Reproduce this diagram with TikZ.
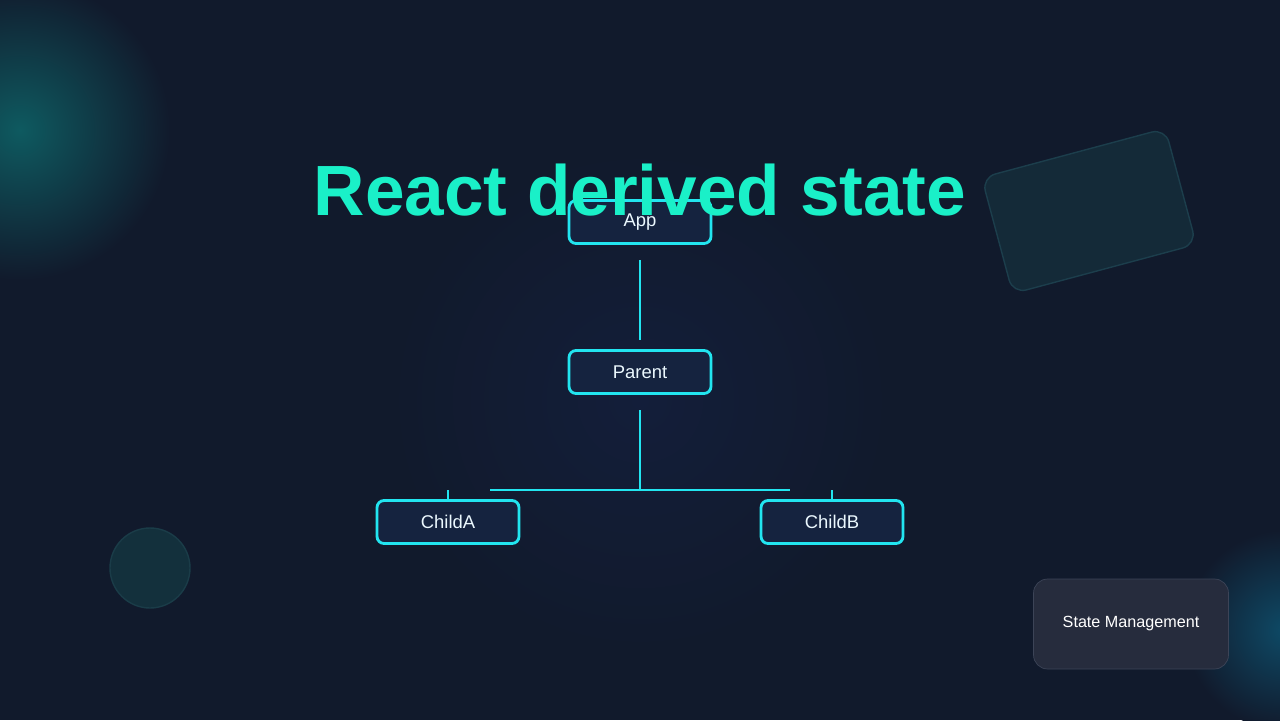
\documentclass[tikz,border=0pt]{standalone}
\usepackage{fontspec}
\setmainfont{Liberation Sans}
\definecolor{bg}{HTML}{111A2C}
\definecolor{cyanl}{HTML}{22E5F0}
\definecolor{boxf}{HTML}{15233F}
\definecolor{ttl}{HTML}{1AF0C8}
\definecolor{blobtl}{HTML}{0E5A60}
\definecolor{blobg}{HTML}{1F4A2C}
\definecolor{blobbr}{HTML}{0E4A66}
\definecolor{blobc}{HTML}{131E3A}
\definecolor{circf}{HTML}{13303C}
\definecolor{circd}{HTML}{1A3C48}
\definecolor{rectf}{HTML}{142A38}
\definecolor{rectd}{HTML}{1C3E4C}
\definecolor{smf}{HTML}{262C3D}
\definecolor{smd}{HTML}{3C4457}
\begin{document}
\begin{tikzpicture}[x=0.02cm,y=-0.02cm,
  box/.style={draw=cyanl,line width=1.6pt,fill=boxf,rounded corners=4pt,minimum width=2.84cm,minimum height=0.86cm,text=white!92!cyan,font=\fontsize{10.5}{12}\selectfont},
  wire/.style={draw=cyanl,line width=1pt}]
\fill[bg] (0,0) rectangle (1280,720);
\useasboundingbox (0,0) rectangle (1280,720);
\shade[inner color=blobtl,outer color=bg] (20,130) circle (150);
\shade[inner color=blobg,outer color=bg] (510,425) circle (65);
\shade[inner color=blobbr,outer color=bg] (1285,630) circle (100);
\shade[inner color=blobc,outer color=bg] (640,400) circle (250);
\draw[circd,fill=circf,line width=0.8pt] (150,568) circle (40);
\draw[rectd,fill=rectf,line width=0.8pt,rounded corners=8pt,rotate around={15:(1089,211)}] (994,151) rectangle (1184,271);
\node[draw=smd,fill=smf,rounded corners=8pt,minimum width=3.9cm,minimum height=1.8cm,text=white,font=\fontsize{9.2}{11}\selectfont] (sm) at (1131,624) {State Management};
\node[box] (app) at (640,222) {App};
\node[box] (par) at (640,372) {Parent};
\node[box] (ca) at (448,522) {ChildA};
\node[box] (cb) at (832,522) {ChildB};
\coordinate (a1) at (640,260); \coordinate (a2) at (640,340);
\coordinate (p1) at (640,410); \coordinate (p2) at (640,490);
\coordinate (hl) at (490,490); \coordinate (hr) at (790,490);
\coordinate (tl) at (448,490); \coordinate (tr) at (832,490);
\draw[wire] (a1) -- (a2);
\draw[wire] (p1) -- (p2);
\draw[wire] (hl) -- (hr);
\draw[wire] (tl) -- (ca.north);
\draw[wire] (tr) -- (cb.north);
\node[text=ttl,font=\bfseries\fontsize{40.5}{48}\selectfont] (title) at (640,190) {React derived state};
\end{tikzpicture}
\end{document}
